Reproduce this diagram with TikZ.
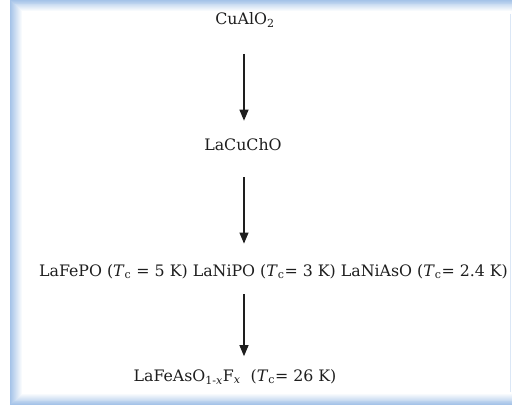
\documentclass[tikz,border=0pt]{standalone}
\usepackage{fontspec}
\setmainfont{DejaVu Serif}
\usetikzlibrary{arrows.meta}
\definecolor{bordblue}{RGB}{165,195,232}
\definecolor{txt}{RGB}{30,30,30}
\begin{document}
\begin{tikzpicture}[x=1pt,y=-1pt,
  lbl/.style={font=\fontsize{15.8}{18}\selectfont, text=txt, inner sep=0pt, anchor=center},
  arr/.style={draw=txt, line width=1.1pt, -{Triangle[length=11pt,width=9pt]}}]
\useasboundingbox (0,0) rectangle (512,412);
\fill[white] (0,0) rectangle (512,412);
\foreach \i in {0,...,12}{
  \pgfmathsetmacro\p{100-\i*8.3}
  \fill[bordblue!\p!white] (10+\i,\i*0.9) rectangle (513,405-\i*0.9);
}
\draw[bordblue!40!white, line width=0.8pt] (510.5,14) -- (510.5,392);
\coordinate (ax) at (244,0);
\node[lbl] (a) at (245,20) {CuAlO\textsubscript{2}};
\node[lbl] (b) at (243,145) {LaCuChO};
\node[lbl] (c) at (273.5,272) {LaFePO (\textit{T}\textsubscript{c} = 5 K) LaNiPO (\textit{T}\textsubscript{c}= 3 K) LaNiAsO (\textit{T}\textsubscript{c}= 2.4 K)};
\node[lbl] (d) at (235,377) {LaFeAsO\textsubscript{1-\textit{x}}F\textsubscript{\textit{x}}\ \ (\textit{T}\textsubscript{c}= 26 K)};
\draw[arr, shorten <=26pt, shorten >=18pt] (a.south -| ax) -- (b.north -| ax);
\draw[arr, shorten <=26pt, shorten >=21pt] (b.south -| ax) -- (c.north -| ax);
\draw[arr, shorten <=15pt, shorten >=13pt] (c.south -| ax) -- (d.north -| ax);
\end{tikzpicture}
\end{document}
